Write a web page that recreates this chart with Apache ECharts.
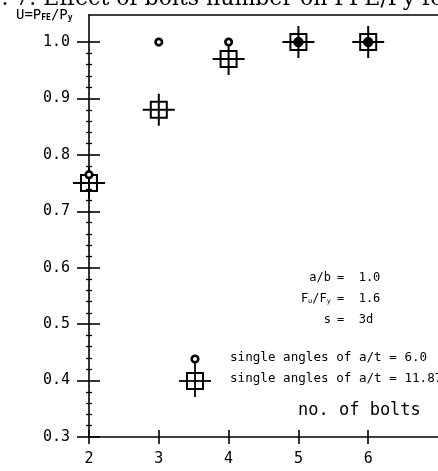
<!DOCTYPE html>
<html>
<head>
<meta charset="utf-8">
<script src="https://cdn.jsdelivr.net/npm/echarts@6/dist/echarts.min.js"></script>
<style>
  html, body { margin: 0; padding: 0; background: #fff; }
  #chart { width: 438px; height: 471px; }
</style>
</head>
<body>
<div id="chart"></div>
<script>
// Number of bolts on the horizontal axis
const bolts = [2, 3, 4, 5, 6];
// Efficiency U = P_FE / P_y for single angles with a/t = 6.0
const uAt60 = [0.765, 1.0, 1.0, 1.0, 1.0];
// Efficiency U = P_FE / P_y for single angles with a/t = 11.87
const uAt1187 = [0.75, 0.88, 0.97, 1.0, 1.0];
// Axis tick labels
const xTickValues = [2, 3, 4, 5, 6];
const yTickValues = [0.3, 0.4, 0.5, 0.6, 0.7, 0.8, 0.9, 1.0];

// minor ticks every 0.02 between the labelled values
const yMinorValues = [];
for (let i = 0; i < yTickValues.length - 1; i++) {
  for (let k = 1; k < 5; k++) {
    yMinorValues.push(+(yTickValues[i] + k * 0.02).toFixed(2));
  }
}

const INK = '#000';
const MONO = '"DejaVu Sans Mono", monospace';
const X_MIN = 2, X_MAX = 7, Y_MIN = 0.3, Y_MAX = 1.048;

const gridRect = { left: 89, top: 15, width: 351.5, height: 422 };

function makeX(gridIndex, extra) {
  return Object.assign({
    type: 'value', gridIndex, min: X_MIN, max: X_MAX,
    splitLine: { show: false },
    axisLine: { show: false },
    axisTick: { show: false },
    axisLabel: { show: false }
  }, extra);
}
function makeY(gridIndex, extra) {
  return Object.assign({
    type: 'value', gridIndex, min: Y_MIN, max: Y_MAX,
    splitLine: { show: false },
    axisLine: { show: false },
    axisTick: { show: false },
    axisLabel: { show: false }
  }, extra);
}

// square with a cross through it, drawn as an open outline
const crossSquare = 'path://M0,16L32,16M16,0L16,32M8,8L24,8L24,24L8,24Z';

const circleData = bolts.map((b, i) => {
  const covered = uAt60[i] === uAt1187[i];
  return {
    value: [b, uAt60[i]],
    symbolSize: covered ? 9.5 : 6.5,
    itemStyle: covered
      ? { color: INK, borderColor: INK, borderWidth: 1, opacity: 1 }
      : { color: '#fff', borderColor: INK, borderWidth: 2.6, opacity: 1 }
  };
});
const squareData = bolts.map((b, i) => [b, uAt1187[i]]);

const option = {
  backgroundColor: '#fff',
  animation: false,
  grid: [0, 1, 2, 3].map(() => Object.assign({ containLabel: false }, gridRect)),
  xAxis: [
    makeX(0, {
      position: 'bottom',
      axisLine: { show: true, lineStyle: { color: INK, width: 1.6 } },
      axisTick: { show: true, inside: false, length: 7, customValues: xTickValues,
                  lineStyle: { color: INK, width: 1.6 } },
      axisLabel: { show: true, customValues: xTickValues, margin: 15,
                   color: INK, fontFamily: MONO, fontSize: 15 }
    }),
    makeX(0, {
      position: 'top',
      axisLine: { show: true, lineStyle: { color: INK, width: 1.6 } }
    }),
    makeX(1, {
      position: 'bottom',
      axisTick: { show: true, inside: true, length: 7, customValues: xTickValues,
                  lineStyle: { color: INK, width: 1.6 } }
    }),
    makeX(2, {}),
    makeX(3, {})
  ],
  yAxis: [
    makeY(0, {
      position: 'left',
      axisLine: { show: true, lineStyle: { color: INK, width: 1.6 } },
      axisTick: { show: true, inside: false, length: 12, customValues: yTickValues,
                  lineStyle: { color: INK, width: 1.6 } },
      axisLabel: { show: true, customValues: yTickValues, margin: 19,
                   formatter: v => v.toFixed(1),
                   color: INK, fontFamily: MONO, fontSize: 15 }
    }),
    makeY(1, {
      position: 'left',
      axisTick: { show: true, inside: true, length: 11, customValues: yTickValues,
                  lineStyle: { color: INK, width: 1.6 } }
    }),
    makeY(2, {
      position: 'left',
      axisTick: { show: true, inside: false, length: 3, customValues: yMinorValues,
                  lineStyle: { color: INK, width: 1.3 } }
    }),
    makeY(3, {
      position: 'left',
      axisTick: { show: true, inside: true, length: 3, customValues: yMinorValues,
                  lineStyle: { color: INK, width: 1.3 } }
    })
  ],
  series: [
    {
      name: 'single angles of a/t = 11.87',
      type: 'scatter', xAxisIndex: 0, yAxisIndex: 0,
      symbol: crossSquare, symbolSize: 32, z: 3,
      itemStyle: { color: 'rgba(0,0,0,0)', borderColor: INK, borderWidth: 2, opacity: 1 },
      data: squareData
    },
    {
      name: 'single angles of a/t = 6.0',
      type: 'scatter', xAxisIndex: 0, yAxisIndex: 0,
      symbol: 'circle', z: 4,
      itemStyle: { opacity: 1 },
      data: circleData
    }
  ],
  graphic: [
    // figure caption, running off the top of the page
    {
      type: 'text', x: -35, y: -1, z: 10,
      style: { text: 'Fig. 7. Effect of bolts number on PFE/Py for single angles',
               font: '22px "DejaVu Serif", serif', fill: INK, verticalAlign: 'middle' }
    },
    // vertical axis title
    {
      type: 'text', left: 16, top: 8, z: 10,
      style: {
        text: 'U=P{s|FE}/P{s|y}',
        font: '14px ' + MONO, fill: INK,
        rich: { s: { fontSize: 8, fontFamily: MONO, fontWeight: 'bold', padding: [6, 0, 0, 0] } }
      }
    },
    // test parameters
    { type: 'text', x: 331, y: 278, style: { text: 'a/b', font: '12px ' + MONO, fill: INK, align: 'right', verticalAlign: 'middle' } },
    { type: 'text', x: 337, y: 278, style: { text: '=  1.0', font: '12px ' + MONO, fill: INK, align: 'left', verticalAlign: 'middle' } },
    { type: 'text', x: 331, y: 299, style: {
        text: 'F{s|u}/F{s|y}', font: '12px ' + MONO, fill: INK, align: 'right', verticalAlign: 'middle',
        rich: { s: { fontSize: 7, fontFamily: MONO, padding: [5, 0, 0, 0] } } } },
    { type: 'text', x: 337, y: 299, style: { text: '=  1.6', font: '12px ' + MONO, fill: INK, align: 'left', verticalAlign: 'middle' } },
    { type: 'text', x: 331, y: 320, style: { text: 's', font: '12px ' + MONO, fill: INK, align: 'right', verticalAlign: 'middle' } },
    { type: 'text', x: 337, y: 320, style: { text: '=  3d', font: '12px ' + MONO, fill: INK, align: 'left', verticalAlign: 'middle' } },
    // key
    { type: 'line', shape: { x1: 195, y1: 358, x2: 195, y2: 397 }, style: { stroke: INK, lineWidth: 1.8 } },
    { type: 'line', shape: { x1: 179, y1: 381, x2: 211, y2: 381 }, style: { stroke: INK, lineWidth: 1.8 } },
    { type: 'rect', shape: { x: 187, y: 373, width: 16, height: 16 }, style: { fill: 'none', stroke: INK, lineWidth: 2 } },
    { type: 'circle', shape: { cx: 195, cy: 359, r: 3.3 }, style: { fill: '#fff', stroke: INK, lineWidth: 2.6 }, z: 5 },
    { type: 'text', x: 230, y: 358, style: { text: 'single angles of a/t = 6.0', font: '12.6px ' + MONO, fill: INK, verticalAlign: 'middle' } },
    { type: 'text', x: 230, y: 379, style: { text: 'single angles of a/t = 11.87', font: '12.6px ' + MONO, fill: INK, verticalAlign: 'middle' } },
    // horizontal axis title
    { type: 'text', x: 298, y: 411, style: { text: 'no. of bolts', font: '17px ' + MONO, fill: INK, verticalAlign: 'middle' } }
  ]
};

const chart = echarts.init(document.getElementById('chart'), null, { renderer: 'canvas' });
chart.setOption(option);
</script>
</body>
</html>
